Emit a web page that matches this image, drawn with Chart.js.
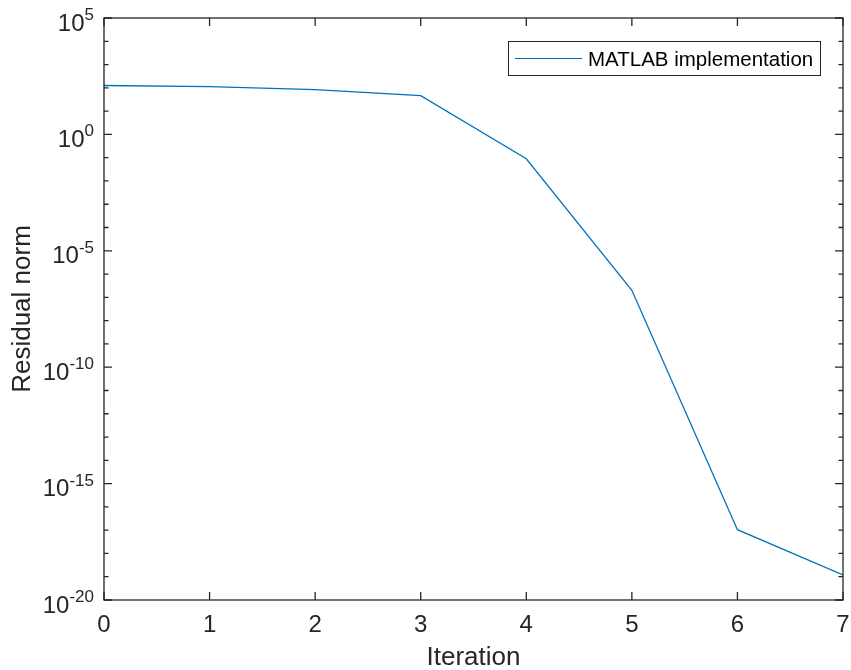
<!DOCTYPE html>
<html>
<head>
    <title>Residual norm per iteration</title>
    <script src="https://cdn.jsdelivr.net/npm/chart.js"></script>
    <style>
        body {
            margin: 0;
            padding: 0;
            background-color: #ffffff;
        }

        #chart-box {
            width: 851px;
            height: 670px;
        }
    </style>
</head>
<body>
    <div id="chart-box">
        <canvas id="residualChart" width="851" height="670"></canvas>
    </div>
    <script>
        // values
        const iterations = [0, 1, 2, 3, 4, 5, 6, 7];
        const residuals = [126, 112, 83, 46, 0.09, 2.0e-7, 1.05e-17, 1.2e-19];
        const seriesLabel = 'MATLAB implementation';

        // axis ticks
        const xTicks = [0, 1, 2, 3, 4, 5, 6, 7];
        const yExponents = [5, 4, 3, 2, 1, 0, -1, -2, -3, -4, -5, -6, -7, -8, -9, -10,
            -11, -12, -13, -14, -15, -16, -17, -18, -19, -20];
        const yLabelExponents = [5, 0, -5, -10, -15, -20];

        const axisColor = '#262626';
        const lineColor = '#0072BD';
        const fontFamily = "'Liberation Sans', Arial, Helvetica, sans-serif";

        // MATLAB style box, inward ticks, 10^n labels and the legend
        const matlabAxes = {
            id: 'matlabAxes',
            afterDraw(chart) {
                const ctx = chart.ctx;
                const a = chart.chartArea;
                const x = chart.scales.x;
                const y = chart.scales.y;
                ctx.save();
                ctx.strokeStyle = axisColor;
                ctx.lineWidth = 1.3;

                ctx.beginPath();
                yExponents.forEach(e => {
                    const py = y.getPixelForValue(Math.pow(10, e));
                    const len = (e % 5 === 0) ? 8 : 4.5;
                    ctx.moveTo(a.left, py);
                    ctx.lineTo(a.left + len, py);
                    ctx.moveTo(a.right, py);
                    ctx.lineTo(a.right - len, py);
                });
                xTicks.forEach(v => {
                    const px = x.getPixelForValue(v);
                    ctx.moveTo(px, a.bottom);
                    ctx.lineTo(px, a.bottom - 8);
                    ctx.moveTo(px, a.top);
                    ctx.lineTo(px, a.top + 8);
                });
                ctx.stroke();
                ctx.strokeRect(a.left, a.top, a.right - a.left, a.bottom - a.top);

                // y tick labels as 10 with a raised exponent
                ctx.fillStyle = axisColor;
                ctx.textBaseline = 'alphabetic';
                ctx.textAlign = 'right';
                const rightEdge = a.left - 10;
                yLabelExponents.forEach(e => {
                    const py = y.getPixelForValue(Math.pow(10, e));
                    const sup = e < 0 ? '-' + Math.abs(e) : String(e);
                    ctx.font = '17px ' + fontFamily;
                    const supWidth = ctx.measureText(sup).width;
                    ctx.fillText(sup, rightEdge, py + 2);
                    ctx.font = '24px ' + fontFamily;
                    ctx.fillText('10', rightEdge - supWidth, py + 12.5);
                });

                // legend
                const lx = 508, ly = 41, lw = 312, lh = 34;
                ctx.fillStyle = '#ffffff';
                ctx.fillRect(lx, ly, lw, lh);
                ctx.lineWidth = 1;
                ctx.strokeStyle = axisColor;
                ctx.strokeRect(lx + 0.5, ly + 0.5, lw, lh);
                ctx.strokeStyle = chart.data.datasets[0].borderColor;
                ctx.lineWidth = 1.2;
                ctx.beginPath();
                ctx.moveTo(lx + 7, ly + 17.5);
                ctx.lineTo(lx + 74, ly + 17.5);
                ctx.stroke();
                ctx.fillStyle = '#000000';
                ctx.textAlign = 'left';
                ctx.font = '20.5px ' + fontFamily;
                ctx.fillText(chart.data.datasets[0].label, lx + 80, ly + 25);
                ctx.restore();
            }
        };

        const ctx = document.getElementById('residualChart').getContext('2d');
        new Chart(ctx, {
            type: 'line',
            data: {
                datasets: [{
                    label: seriesLabel,
                    data: iterations.map((it, i) => ({ x: it, y: residuals[i] })),
                    borderColor: lineColor,
                    borderWidth: 1.3,
                    pointRadius: 0,
                    tension: 0,
                    fill: false
                }]
            },
            options: {
                responsive: false,
                devicePixelRatio: 1,
                animation: false,
                layout: {
                    padding: { top: 18, right: 8, bottom: 0, left: 0 }
                },
                plugins: {
                    legend: { display: false },
                    tooltip: { enabled: false }
                },
                scales: {
                    x: {
                        type: 'linear',
                        min: 0,
                        max: 7,
                        afterBuildTicks: scale => {
                            scale.ticks = xTicks.map(v => ({ value: v }));
                        },
                        afterFit: scale => {
                            scale.height = 70;
                            scale.paddingLeft = 0;
                            scale.paddingRight = 0;
                        },
                        grid: { display: false, drawTicks: false },
                        border: { display: false },
                        ticks: {
                            color: axisColor,
                            padding: 11,
                            maxRotation: 0,
                            font: { family: fontFamily, size: 24 }
                        },
                        title: {
                            display: true,
                            text: 'Iteration',
                            color: axisColor,
                            padding: 0,
                            font: { family: fontFamily, size: 26, lineHeight: 0.9 }
                        }
                    },
                    y: {
                        type: 'logarithmic',
                        min: 1e-20,
                        max: 1e5,
                        afterBuildTicks: scale => {
                            scale.ticks = yExponents.map(e => ({ value: Math.pow(10, e) }));
                        },
                        afterFit: scale => {
                            scale.width = 104;
                            scale.paddingTop = 0;
                            scale.paddingBottom = 0;
                        },
                        grid: { display: false, drawTicks: false },
                        border: { display: false },
                        ticks: { display: false },
                        title: {
                            display: true,
                            text: 'Residual norm',
                            color: axisColor,
                            padding: { top: 11, bottom: 0 },
                            font: { family: fontFamily, size: 26, lineHeight: 0.9 }
                        }
                    }
                }
            },
            plugins: [matlabAxes]
        });
    </script>
</body>
</html>
